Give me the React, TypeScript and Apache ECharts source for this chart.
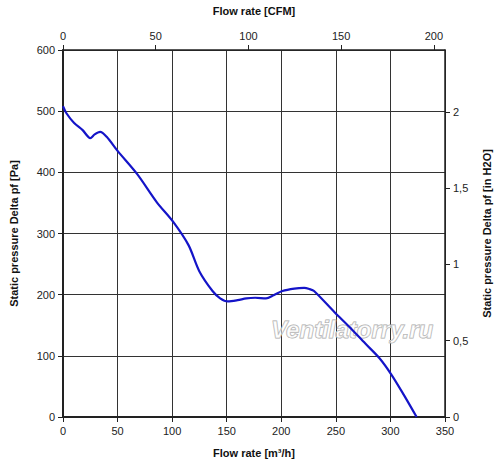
import React, { useEffect, useRef } from "react";
import * as echarts from "echarts";

const flowRates = [0, 3, 10, 18, 25, 29, 34, 40, 50, 68, 86, 101, 115, 125, 137, 144, 151, 160, 168, 176, 186, 193, 201, 212, 221, 226, 230, 249, 262, 277, 290, 301, 312, 324];
const pressures = [508, 497, 481, 469, 456, 462, 466, 458, 435, 397, 351, 319, 281, 238, 206, 194, 189, 191, 194, 195, 194, 199, 206, 210, 211, 209, 206, 171, 148, 120, 96, 69, 37, 0];

const xTicksM3h = [0, 50, 100, 150, 200, 250, 300, 350];
const M3H_PER_CFM = 1.699;
const PA_PER_INH2O = 249.5;

const FONT = "Liberation Sans, Arial, sans-serif";

export default function App() {
  const ref = useRef<HTMLDivElement>(null);
  useEffect(() => {
    if (!ref.current) return;
    const chart = echarts.init(ref.current, undefined, { renderer: "svg" });
    const xMax = xTicksM3h[xTicksM3h.length - 1];
    const yMax = 600;
    const axisCommon = {
      axisTick: { show: true, length: 5, inside: false, lineStyle: { color: "#222", width: 1 } },
      axisLabel: { color: "#222", fontSize: 11, fontFamily: FONT },
      nameTextStyle: { color: "#111", fontSize: 11, fontWeight: "bold", fontFamily: FONT },
      nameLocation: "middle" as const,
    };
    chart.setOption({
      animation: false,
      backgroundColor: "#fff",
      grid: { left: 62, right: 52, top: 46, bottom: 45, containLabel: false },
      xAxis: [
        {
          ...axisCommon,
          type: "value",
          position: "bottom",
          min: 0,
          max: xMax,
          interval: 50,
          name: "Flow rate [m³/h]",
          nameGap: 30,
          axisLine: { show: true, onZero: false, lineStyle: { color: "#222", width: 2 } },
          axisLabel: { ...axisCommon.axisLabel, margin: 8 },
          splitLine: { show: true, lineStyle: { color: "#333", width: 1 } },
        },
        {
          ...axisCommon,
          type: "value",
          position: "top",
          min: 0,
          max: xMax / M3H_PER_CFM,
          interval: 50,
          name: "Flow rate [CFM]",
          nameGap: 34,
          axisLine: { show: true, onZero: false, lineStyle: { color: "#222", width: 1.5 } },
          axisLabel: { ...axisCommon.axisLabel, margin: 9, showMaxLabel: false },
          splitLine: { show: false },
        },
      ],
      yAxis: [
        {
          ...axisCommon,
          type: "value",
          position: "left",
          min: 0,
          max: yMax,
          interval: 100,
          name: "Static pressure Delta pf [Pa]",
          nameGap: 44,
          axisLine: { show: true, onZero: false, lineStyle: { color: "#222", width: 2 } },
          axisLabel: { ...axisCommon.axisLabel, margin: 8 },
          splitLine: { show: true, lineStyle: { color: "#333", width: 1 } },
        },
        {
          ...axisCommon,
          type: "value",
          position: "right",
          min: 0,
          max: yMax / PA_PER_INH2O,
          interval: 0.5,
          name: "Static pressure Delta pf [in H2O]",
          nameGap: 36,
          axisLine: { show: true, onZero: false, lineStyle: { color: "#222", width: 1.5 } },
          axisLabel: {
            ...axisCommon.axisLabel,
            margin: 8,
            showMaxLabel: false,
            formatter: (v: number) => String(v).replace(".", ","),
          },
          splitLine: { show: false },
        },
      ],
      graphic: [
        {
          type: "text",
          x: 271,
          y: 317,
          z: 1,
          style: {
            text: "Ventilatorry.ru",
            fontSize: 24,
            fontStyle: "italic",
            fontWeight: "bold",
            fontFamily: FONT,
            fill: "rgba(255,255,255,0.55)",
            stroke: "#a8a8a8",
            lineWidth: 1,
          },
        },
      ],
      series: [
        {
          type: "line",
          xAxisIndex: 0,
          yAxisIndex: 0,
          data: flowRates.map((x, i) => [x, pressures[i]]),
          smooth: 0.3,
          showSymbol: false,
          symbol: "none",
          lineStyle: { color: "#1414c8", width: 2.2 },
          z: 5,
        },
      ],
    });
    return () => chart.dispose();
  }, []);
  return <div ref={ref} style={{ width: 500, height: 463, position: "absolute", left: 0, top: 0 }} />;
}
